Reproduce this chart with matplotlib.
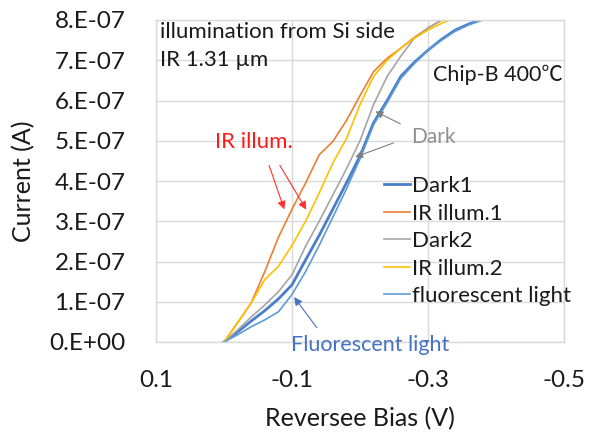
import matplotlib
matplotlib.use("Agg")
import matplotlib.pyplot as plt
import numpy as np

plt.rcParams['font.family'] = ['Lato', 'DejaVu Sans']

# Reverse bias voltage (V)
bias = [0.0, -0.02, -0.04, -0.06, -0.08, -0.10, -0.12, -0.14, -0.16, -0.18, -0.20,
        -0.22, -0.24, -0.26, -0.28, -0.30, -0.32, -0.34, -0.36, -0.38, -0.40]

# Currents in units of 1e-7 A
dark1 = [0, 0.25, 0.52, 0.78, 1.07, 1.42, 2.04, 2.65, 3.3, 3.95, 4.62,
         5.45, 6.0, 6.6, 6.95, 7.25, 7.52, 7.75, 7.9, 8.02, 8.1]
ir1 = [0, 0.48, 0.97, 1.75, 2.6, 3.3, 3.95, 4.65, 4.98, 5.5, 6.12,
       6.72, 7.05, 7.3, 7.57, 7.8, 8.0, 8.15, 8.25, 8.3, 8.35]
dark2 = [0, 0.3, 0.62, 0.92, 1.25, 1.67, 2.38, 3.0, 3.65, 4.3, 5.0,
         5.9, 6.6, 7.1, 7.55, 7.8, 8.0, 8.12, 8.2, 8.25, 8.3]
ir2 = [0, 0.48, 0.97, 1.55, 1.88, 2.4, 3.0, 3.7, 4.45, 5.05, 5.9,
       6.6, 7.0, 7.3, 7.55, 7.75, 7.92, 8.05, 8.15, 8.2, 8.25]
fluor = [0, 0.18, 0.38, 0.55, 0.75, 1.18, 1.75, 2.4, 3.1, 3.8, 4.55,
         5.4, 5.95, 6.55, 6.92, 7.25, 7.5, 7.72, 7.88, 8.0, 8.1]

series = [("Dark1", dark1, '#4A7EC8', 2.0),
          ("IR illum.1", ir1, '#ED7D31', 1.2),
          ("Dark2", dark2, '#A5A5A5', 1.2),
          ("IR illum.2", ir2, '#FFC000', 1.2),
          ("fluorescent light", fluor, '#5B9BD5', 1.2)]

yticks = [0, 1, 2, 3, 4, 5, 6, 7, 8]
ytick_labels = ["0.E+00", "1.E-07", "2.E-07", "3.E-07", "4.E-07",
                "5.E-07", "6.E-07", "7.E-07", "8.E-07"]
xticks = [0.1, -0.1, -0.3, -0.5]
xtick_labels = ["0.1", "-0.1", "-0.3", "-0.5"]

TXT = '#1a1a1a'

fig = plt.figure(figsize=(5.94, 4.34), dpi=100)
ax = fig.add_axes([156/594, 1-342/434, (564-156)/594, (342-20)/434])

for name, vals, col, lw in series:
    ax.plot(bias, vals, color=col, lw=lw, label=name, solid_joinstyle='round')

ax.set_xlim(0.1, -0.5)
ax.set_ylim(0, 8)
ax.set_xticks(xticks)
ax.set_xticklabels(xtick_labels)
ax.set_yticks(yticks)
ax.set_yticklabels(ytick_labels)
ax.tick_params(axis='both', length=0, labelsize=17.5, colors=TXT)
ax.tick_params(axis='x', pad=20)
ax.tick_params(axis='y', pad=22)
ax.grid(True, color='#D9D9D9', lw=1)
ax.set_axisbelow(True)
for s in ax.spines.values():
    s.set_color('#D9D9D9')
    s.set_linewidth(1)

ax.set_xlabel("Reversee Bias (V)", fontsize=18, color=TXT)
ax.set_ylabel("Current (A)", fontsize=18, color=TXT)
ax.xaxis.set_label_coords(0.5, (342-419)/322)
ax.xaxis.label.set_va('center')
ax.yaxis.set_label_coords((24-156)/408, 0.5)
ax.yaxis.label.set_va('center')

leg = ax.legend(loc='upper left', bbox_to_anchor=(384/594, 1-176/434),
                bbox_transform=fig.transFigure, frameon=False, fontsize=16,
                handlelength=1.15, handletextpad=0.1, labelspacing=0.34,
                borderpad=0, borderaxespad=0)
for t in leg.get_texts():
    t.set_color(TXT)

ax.text(0.094, 7.7, "illumination from Si side", fontsize=16, va='center', ha='left', color=TXT)
ax.text(0.094, 7.0, "IR 1.31 \u00b5m", fontsize=16, va='center', ha='left', color=TXT)
ax.text(-0.307, 6.63, "Chip-B 400\u2103", fontsize=15.5, va='center', ha='left', color=TXT,
        family=['Lato', 'Noto Sans CJK JP'])

ax.text(-0.275, 5.09, "Dark", fontsize=15, va='center', ha='left', color='#909090')
ap_gray = dict(arrowstyle='-|>', color='#808080', lw=0.8, mutation_scale=11)
ax.annotate("", xy=(-0.219, 5.76), xytext=(-0.263, 5.39), arrowprops=ap_gray)
ax.annotate("", xy=(-0.189, 4.57), xytext=(-0.253, 4.97), arrowprops=ap_gray)

ax.text(0.013, 4.97, "IR illum.", fontsize=16, va='center', ha='left', color='#FF1A1A')
ap_red = dict(arrowstyle='-|>', color='#FF3030', lw=0.8, mutation_scale=12)
ax.annotate("", xy=(-0.09, 3.23), xytext=(-0.065, 4.45), arrowprops=ap_red)
ax.annotate("", xy=(-0.123, 3.23), xytext=(-0.08, 4.45), arrowprops=ap_red)

ax.text(-0.098, -0.07, "Fluorescent light", fontsize=15.5, va='center', ha='left',
        color='#4472C4', clip_on=False)
ap_blue = dict(arrowstyle='-|>', color='#4472C4', lw=0.8, mutation_scale=12)
ax.annotate("", xy=(-0.1006, 1.17), xytext=(-0.139, 0.30), arrowprops=ap_blue)

fig.savefig("out.png", dpi=100)
